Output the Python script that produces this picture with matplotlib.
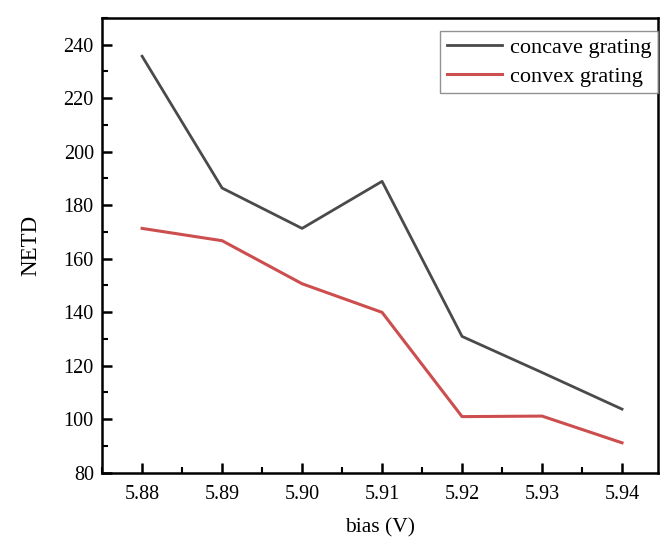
import matplotlib
matplotlib.use("Agg")
import matplotlib.pyplot as plt
from matplotlib.ticker import MultipleLocator

bias = [5.88, 5.89, 5.90, 5.91, 5.92, 5.93, 5.94]
concave = [235.7, 186.4, 171.3, 188.9, 130.9, 117.4, 103.7]
convex = [171.3, 166.7, 150.6, 139.9, 100.9, 101.1, 91.1]
xtick_labels = ["5.88", "5.89", "5.90", "5.91", "5.92", "5.93", "5.94"]

plt.rcParams['font.family'] = ['Liberation Serif', 'DejaVu Serif']

fig = plt.figure(figsize=(6.63, 5.4), dpi=100)
ax = fig.add_axes([0.154, 0.125, 0.8385, 0.8417])

ax.plot(bias, concave, color='#4a4a4a', lw=2.0, label='concave grating')
ax.plot(bias, convex, color='#cc4e4e', lw=2.2, label='convex grating')

ax.set_xlim(5.875, 5.9445)
ax.set_ylim(80, 250)
ax.set_xticks(bias)
ax.set_xticklabels(xtick_labels)
ax.xaxis.set_minor_locator(MultipleLocator(0.005))
ax.set_yticks(range(80, 241, 20))
ax.yaxis.set_minor_locator(MultipleLocator(10))

ax.tick_params(which='major', direction='in', length=7, width=1.8, labelsize=14.5,
               top=False, right=False, pad=6)
ax.tick_params(axis='x', which='major', pad=9)
ax.tick_params(which='minor', direction='in', length=4, width=1.5, top=False, right=False)
for s in ax.spines.values():
    s.set_linewidth(1.8)
    s.set_color('black')

ax.set_xlabel('bias (V)', fontsize=15.5, labelpad=10)
ax.set_ylabel('NETD', fontsize=16.5, labelpad=16)

leg = ax.legend(loc='upper right', bbox_to_anchor=(1.0, 1 - 13 / 454.4), borderaxespad=0,
                fontsize=16, fancybox=False, frameon=True, handlelength=2.5,
                handletextpad=0.35, borderpad=0.3, labelspacing=0.35)
leg.get_frame().set_edgecolor('#777777')
leg.get_frame().set_linewidth(1.0)

fig.savefig('out.png', dpi=100)
